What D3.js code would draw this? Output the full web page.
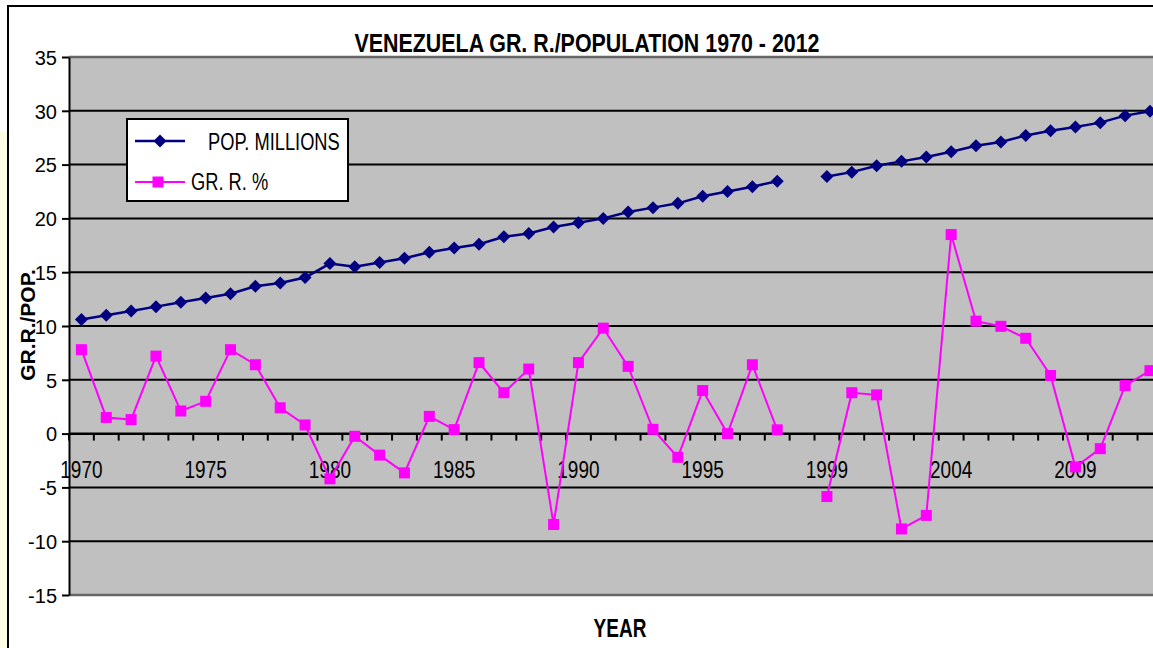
<!DOCTYPE html>
<html>
<head>
<meta charset="utf-8">
<script src="https://cdn.jsdelivr.net/npm/d3@7"></script>
<style>
  body { margin: 0; background: #fff; }
  text { font-family: "Liberation Sans", Arial, sans-serif; }
</style>
</head>
<body>
<div id="chart"></div>
<script>
// data, 1998 and 1999 are split by one empty slot
var years1 = ["1970","1971","1972","1973","1974","1975","1976","1977","1978","1979",
              "1980","1981","1982","1983","1984","1985","1986","1987","1988","1989",
              "1990","1991","1992","1993","1994","1995","1996","1997","1998"];
var years2 = ["1999","2000","2001","2002","2003","2004","2005","2006","2007","2008",
              "2009","2010","2011","2012"];
var pop1 = [10.6, 11.0, 11.4, 11.8, 12.2, 12.6, 13.0, 13.7, 14.0, 14.5,
            15.8, 15.5, 15.9, 16.3, 16.85, 17.25, 17.6, 18.3, 18.6, 19.2,
            19.6, 20.0, 20.6, 21.0, 21.4, 22.05, 22.5, 22.95, 23.45];
var pop2 = [23.9, 24.3, 24.9, 25.3, 25.7, 26.2, 26.75, 27.1, 27.7, 28.15,
            28.5, 28.9, 29.55, 29.95];
var gr1 = [7.8, 1.5, 1.3, 7.2, 2.1, 3.0, 7.8, 6.4, 2.4, 0.8,
           -4.2, -0.25, -2.0, -3.65, 1.6, 0.37, 6.6, 3.8, 6.0, -8.45,
           6.6, 9.8, 6.25, 0.4, -2.2, 4.0, 0.0, 6.4, 0.35];
var gr2 = [-5.85, 3.8, 3.6, -8.86, -7.6, 18.5, 10.45, 9.97, 8.86, 5.4,
           -3.1, -1.4, 4.46, 5.85];
var yTicks = [-15, -10, -5, 0, 5, 10, 15, 20, 25, 30, 35];

var categories = years1.concat([" "], years2);
var popValues = pop1.concat([null], pop2);
var grValues = gr1.concat([null], gr2);

var W = 1153, H = 648;
var plot = {left: 69, top: 57, bottom: 595, band: 24.85};
plot.right = plot.left + categories.length * plot.band;

var svg = d3.select("#chart").append("svg")
  .attr("width", W).attr("height", H);

svg.append("rect").attr("width", W).attr("height", H).attr("fill", "#fff");
// pale strip left of the chart frame
svg.append("rect").attr("x", 0).attr("y", 132).attr("width", 7).attr("height", H - 132)
  .attr("fill", "#fffde4");
// chart frame (only left and top edges visible)
svg.append("rect").attr("x", 8).attr("y", 6).attr("width", W + 20).attr("height", H + 20)
  .attr("fill", "none").attr("stroke", "#000").attr("stroke-width", 2);

var x = d3.scaleBand().domain(categories).range([plot.left, plot.right]);
var y = d3.scaleLinear().domain([-15, 35]).range([plot.bottom, plot.top]);
var cx = function(c) { return x(c) + x.bandwidth() / 2; };

// plot area
svg.append("rect")
  .attr("x", plot.left).attr("y", plot.top)
  .attr("width", plot.right - plot.left).attr("height", plot.bottom - plot.top)
  .attr("fill", "#c0c0c0");

// gridlines
svg.append("g").selectAll("line")
  .data(yTicks.filter(function(t) { return t > -15 && t < 35; }))
  .join("line")
  .attr("x1", plot.left).attr("x2", plot.right)
  .attr("y1", function(d) { return y(d); }).attr("y2", function(d) { return y(d); })
  .attr("stroke", "#000").attr("stroke-width", 2);

// top / bottom border of plot area
[35, -15].forEach(function(v) {
  svg.append("line").attr("x1", plot.left).attr("x2", plot.right)
    .attr("y1", y(v)).attr("y2", y(v))
    .attr("stroke", "#666").attr("stroke-width", 2.5);
});

// y axis (plain hyphen for negatives, like the original)
var yAxis = svg.append("g")
  .attr("transform", "translate(" + plot.left + ",0)")
  .call(d3.axisLeft(y).tickValues(yTicks).tickSize(7).tickPadding(5).tickSizeOuter(0)
    .tickFormat(function(d) { return String(d); }));
yAxis.select(".domain").attr("stroke", "#000").attr("stroke-width", 2);
yAxis.selectAll(".tick line").attr("stroke", "#000").attr("stroke-width", 2);
yAxis.selectAll(".tick text")
  .attr("font-family", "Liberation Sans, Arial, sans-serif")
  .attr("font-size", 20).attr("fill", "#000").attr("dy", "0.36em");

// x axis crossing at zero
var xAxis = svg.append("g")
  .attr("transform", "translate(0," + y(0) + ")")
  .call(d3.axisBottom(x).tickSize(0).tickSizeOuter(0)
    .tickFormat(function(d, i) { return i % 5 === 0 ? d : ""; }));
xAxis.select(".domain").attr("stroke", "#000").attr("stroke-width", 2);
xAxis.selectAll(".tick text")
  .attr("font-family", "Liberation Sans, Arial, sans-serif")
  .attr("font-size", 19).attr("fill", "#000")
  .attr("y", 0).attr("dy", 0)
  .attr("transform", "translate(0,44) scale(1,1.25)");
// tick marks at category boundaries
xAxis.append("g").selectAll("line")
  .data(categories)
  .join("line")
  .attr("x1", function(d) { return x(d); }).attr("x2", function(d) { return x(d); })
  .attr("y1", 0).attr("y2", 7)
  .attr("stroke", "#000").attr("stroke-width", 2);

// series
var seriesLine = d3.line()
  .defined(function(d) { return d.v !== null; })
  .x(function(d) { return cx(d.c); }).y(function(d) { return y(d.v); });

var popData = categories.map(function(c, i) { return {c: c, v: popValues[i]}; });
var grData = categories.map(function(c, i) { return {c: c, v: grValues[i]}; });

svg.append("path").datum(grData)
  .attr("d", seriesLine).attr("fill", "none")
  .attr("stroke", "#ff00ff").attr("stroke-width", 2);
svg.append("g").selectAll("rect")
  .data(grData.filter(function(d) { return d.v !== null; }))
  .join("rect")
  .attr("x", function(d) { return cx(d.c) - 5.5; })
  .attr("y", function(d) { return y(d.v) - 5.5; })
  .attr("width", 11).attr("height", 11)
  .attr("fill", "#ff00ff");

svg.append("path").datum(popData)
  .attr("d", seriesLine).attr("fill", "none")
  .attr("stroke", "#000080").attr("stroke-width", 2.5);
var diamond = "M0,-6.5L6.5,0L0,6.5L-6.5,0Z";
svg.append("g").selectAll("path")
  .data(popData.filter(function(d) { return d.v !== null; }))
  .join("path")
  .attr("d", diamond)
  .attr("transform", function(d) { return "translate(" + cx(d.c) + "," + y(d.v) + ")"; })
  .attr("fill", "#000080");

// legend
var legend = svg.append("g");
legend.append("rect").attr("x", 127).attr("y", 119).attr("width", 221).attr("height", 82)
  .attr("fill", "#fff").attr("stroke", "#000").attr("stroke-width", 2);
legend.append("line").attr("x1", 135).attr("x2", 185).attr("y1", 141).attr("y2", 141)
  .attr("stroke", "#000080").attr("stroke-width", 2.5);
legend.append("path").attr("d", diamond).attr("transform", "translate(160,141)")
  .attr("fill", "#000080");
legend.append("text").attr("transform", "translate(208,150) scale(1,1.35)")
  .attr("font-size", 18.3).attr("fill", "#000").text("POP. MILLIONS");
legend.append("line").attr("x1", 135).attr("x2", 185).attr("y1", 182).attr("y2", 182)
  .attr("stroke", "#ff00ff").attr("stroke-width", 2);
legend.append("rect").attr("x", 152.5).attr("y", 176.5).attr("width", 11).attr("height", 11)
  .attr("fill", "#ff00ff");
legend.append("text").attr("transform", "translate(191,190) scale(1,1.35)")
  .attr("font-size", 18.3).attr("fill", "#000").text("GR. R. %");

// titles
svg.append("text").attr("transform", "translate(587,52) scale(1,1.2)")
  .attr("text-anchor", "middle").attr("font-size", 21).attr("font-weight", "bold")
  .attr("textLength", 465).attr("lengthAdjust", "spacingAndGlyphs")
  .text("VENEZUELA GR. R./POPULATION 1970 - 2012");
svg.append("text").attr("transform", "translate(620,637) scale(1,1.35)")
  .attr("text-anchor", "middle").attr("font-size", 19).attr("font-weight", "bold")
  .text("YEAR");
svg.append("text").attr("transform", "translate(35,325) rotate(-90)")
  .attr("text-anchor", "middle").attr("font-size", 21).attr("font-weight", "bold")
  .text("GR.R./POP.");
</script>
</body>
</html>
